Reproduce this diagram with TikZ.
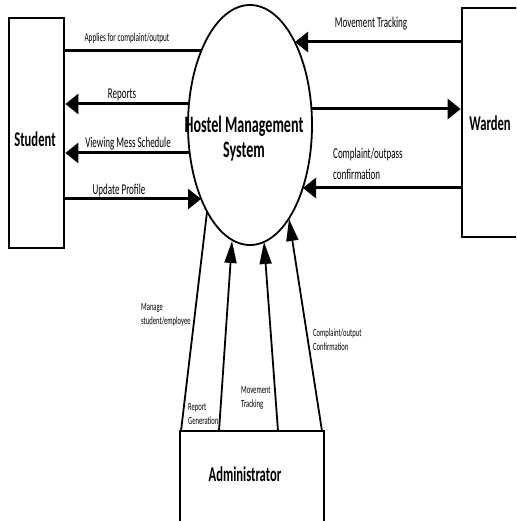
\documentclass[tikz,border=0pt]{standalone}
\usepackage{graphicx}
\usepackage{fontspec}
\setmainfont{Carlito}
\usetikzlibrary{arrows.meta,shapes.geometric}

\newcommand{\narrow}[1]{\scalebox{0.6}[1]{#1}}

\begin{document}
\begin{tikzpicture}[x=1pt,y=-1pt]
\tikzstyle{every node}+=[inner sep=0pt]
\tikzstyle{entity}=[draw,black,rectangle,line width=2.7pt]
\tikzstyle{title}=[font=\fontsize{21}{25}\selectfont\bfseries]
\tikzstyle{flowlabel}=[font=\fontsize{15}{21}\selectfont]
\tikzstyle{smalllabel}=[font=\fontsize{11}{14.5}\selectfont,align=left,anchor=west]
\tikzstyle{hflow}=[black,line width=3pt,-{Triangle[length=13pt,width=20pt]}]
\tikzstyle{vflow}=[black,line width=1.8pt,-{Triangle[length=22pt,width=12pt]}]
\useasboundingbox (0,0) rectangle (516,521);
\clip (0,0) rectangle (516,521);
\node [entity,minimum width=55pt,minimum height=230pt] (student) at (36.5,133) {};
\node [title] (studenttext) at (35,139.5) {\narrow{Student}};
\node [entity,minimum width=56pt,minimum height=229pt] (warden) at (490,122.5) {};
\node [title] (wardentext) at (490,123.5) {\narrow{Warden}};
\node [entity,minimum width=144pt,minimum height=100pt] (admin) at (252,481) {};
\node [title] (admintext) at (245,474.5) {\narrow{Administrator}};
\node [draw,black,ellipse,line width=1.8pt,minimum width=124pt,minimum height=240pt] (hms) at (250,125) {};
\node [title,font=\fontsize{23.5}{25}\selectfont\bfseries,align=center] (hmstext) at (244,139) {\narrow{Hostel Management}\\\narrow{System}};
\coordinate (hA) at (201,51);
\coordinate (hB) at (189,104);
\coordinate (hC) at (190,153);
\coordinate (hD) at (201,199);
\coordinate (hE) at (295,42);
\coordinate (hF) at (311,109);
\coordinate (hG) at (303,188);
\coordinate (hH) at (207,212);
\coordinate (hI) at (232,241);
\coordinate (hJ) at (264,242);
\coordinate (hK) at (289,219);
\coordinate (a1) at (181,431);
\coordinate (a2) at (219,431);
\coordinate (a3) at (278,431);
\coordinate (a4) at (322,431);
\draw [black,line width=3pt] (student.east |- hA) -- (hA);
\draw [hflow] (hB) -- (student.east |- hB);
\draw [hflow] (hC) -- (student.east |- hC);
\draw [hflow] (student.east |- hD) -- (hD);
\draw [hflow] (warden.west |- hE) -- (hE);
\draw [hflow] (hF) -- (warden.west |- hF);
\draw [hflow] (warden.west |- hG) -- (hG);
\draw [black,line width=1.8pt] (a1) -- (hH);
\draw [vflow] (a2) -- (hI);
\draw [vflow] (a3) -- (hJ);
\draw [vflow] (a4) -- (hK);
\node [flowlabel,font=\fontsize{12}{14}\selectfont,anchor=base] (applies) at (127,42) {\narrow{Applies for complaint/output}};
\node [flowlabel,anchor=base] (reports) at (122,99) {\narrow{Reports}};
\node [flowlabel,anchor=base] (mess) at (128,148) {\narrow{Viewing Mess Schedule}};
\node [flowlabel,anchor=base] (profile) at (119,195) {\narrow{Update Profile}};
\node [flowlabel,anchor=base] (tracking) at (371,28) {\narrow{Movement Tracking}};
\node [flowlabel,align=left,anchor=west] (outpass) at (333,164) {\narrow{Complaint/outpass}\\\narrow{confirmation}};
\node [smalllabel] (manage) at (141,315) {\narrow{Manage}\\\narrow{student/employee}};
\node [smalllabel] (report) at (188,414) {\narrow{Report}\\\narrow{Generation}};
\node [smalllabel] (movement) at (241,398) {\narrow{Movement}\\\narrow{Tracking}};
\node [smalllabel] (confirm) at (313,339.5) {\narrow{Complaint/output}\\\narrow{Confirmation}};
\end{tikzpicture}
\end{document}
